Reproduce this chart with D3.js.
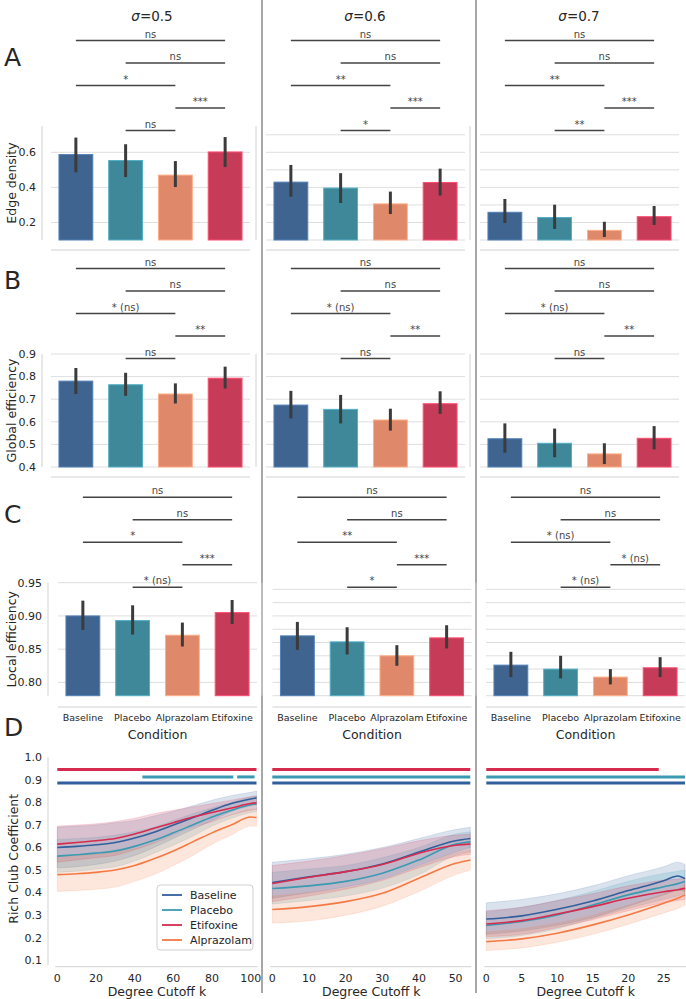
<!DOCTYPE html>
<html>
<head>
<meta charset="utf-8">
<script src="https://cdn.jsdelivr.net/npm/d3@7"></script>
<style>
body{margin:0;background:#fff}
text{font-family:"DejaVu Sans",sans-serif;fill:#262626}
</style>
</head>
<body>
<svg id="chart" width="686" height="999"></svg>
<script>
// ---- data ----
var conditions = ["Baseline","Placebo","Alprazolam","Etifoxine"];
var sigmas = ["0.5","0.6","0.7"];
var pairs = [[0,3],[1,3],[0,2],[2,3],[1,2]];

var edgeMean = [[0.587,0.553,0.470,0.602],[0.430,0.396,0.306,0.428],[0.258,0.228,0.155,0.233]];
var edgeLo   = [[0.486,0.459,0.402,0.516],[0.347,0.311,0.248,0.353],[0.197,0.163,0.117,0.186]];
var edgeHi   = [[0.684,0.646,0.550,0.687],[0.528,0.481,0.376,0.507],[0.334,0.301,0.204,0.294]];
var edgeStars = [["ns","ns","*","***","ns"],["ns","ns","**","***","*"],["ns","ns","**","***","**"]];

var globalMean = [[0.780,0.764,0.723,0.793],[0.674,0.655,0.608,0.680],[0.525,0.505,0.458,0.527]];
var globalLo   = [[0.723,0.715,0.681,0.747],[0.615,0.593,0.561,0.635],[0.463,0.443,0.413,0.478]];
var globalHi   = [[0.838,0.817,0.770,0.844],[0.737,0.719,0.658,0.735],[0.593,0.570,0.505,0.581]];
var globalStars = [["ns","ns","* (ns)","**","ns"],["ns","ns","* (ns)","**","ns"],["ns","ns","* (ns)","**","ns"]];

var localMean = [[0.900,0.893,0.871,0.905],[0.870,0.861,0.840,0.867],[0.826,0.820,0.808,0.822]];
var localLo   = [[0.879,0.872,0.854,0.888],[0.849,0.842,0.825,0.851],[0.808,0.806,0.797,0.808]];
var localHi   = [[0.923,0.916,0.890,0.924],[0.891,0.883,0.856,0.886],[0.846,0.840,0.820,0.838]];
var localStars = [["ns","ns","*","***","* (ns)"],["ns","ns","**","***","*"],["ns","ns","* (ns)","* (ns)","* (ns)"]];

var edgeTicks = [[0.2,0.4,0.6],[0.1,0.2,0.3,0.4,0.5,0.6,0.7],[0.1,0.2,0.3,0.4,0.5,0.6,0.7]];
var globalTicks = [0.4,0.5,0.6,0.7,0.8,0.9];
var localTicks = [[0.80,0.85,0.90,0.95],[0.78,0.80,0.82,0.84,0.86,0.88,0.90,0.92,0.94],[0.78,0.80,0.82,0.84,0.86,0.88,0.90,0.92,0.94]];

// rich club: k samples per sigma
var rcK = [[0,10,20,30,40,50,60,70,80,90,100,103],[0,10,20,30,40,50,54],[0,5,10,15,20,25,27,28]];
var rcOrder = ["Baseline","Placebo","Etifoxine","Alprazolam"];
var rcBaseline = [
  [0.600,0.605,0.612,0.622,0.642,0.668,0.700,0.732,0.765,0.795,0.815,0.820],
  [0.445,0.470,0.493,0.527,0.580,0.630,0.640],
  [0.283,0.297,0.326,0.363,0.409,0.453,0.474,0.462]];
var rcBaselineLo = [
  [0.510,0.515,0.525,0.540,0.565,0.600,0.640,0.680,0.720,0.760,0.785,0.790],
  [0.375,0.400,0.425,0.460,0.520,0.580,0.600],
  [0.215,0.230,0.255,0.290,0.340,0.390,0.410,0.405]];
var rcBaselineHi = [
  [0.690,0.695,0.700,0.710,0.720,0.740,0.760,0.785,0.810,0.830,0.845,0.850],
  [0.535,0.550,0.570,0.600,0.640,0.680,0.690],
  [0.355,0.370,0.395,0.430,0.475,0.515,0.535,0.525]];
var rcPlacebo = [
  [0.562,0.568,0.575,0.585,0.605,0.632,0.665,0.700,0.735,0.765,0.790,0.793],
  [0.418,0.430,0.450,0.486,0.545,0.615,0.625],
  [0.255,0.272,0.301,0.345,0.390,0.426,0.440,0.449]];
var rcPlaceboLo = [
  [0.490,0.495,0.505,0.515,0.540,0.575,0.610,0.650,0.695,0.730,0.755,0.760],
  [0.350,0.365,0.385,0.420,0.480,0.565,0.580],
  [0.195,0.210,0.240,0.285,0.330,0.370,0.385,0.395]];
var rcPlaceboHi = [
  [0.635,0.640,0.645,0.655,0.670,0.690,0.720,0.750,0.775,0.800,0.825,0.830],
  [0.490,0.505,0.520,0.555,0.600,0.660,0.670],
  [0.315,0.335,0.365,0.405,0.450,0.485,0.495,0.500]];
var rcEtifoxine = [
  [0.615,0.622,0.630,0.640,0.660,0.685,0.710,0.735,0.755,0.775,0.795,0.798],
  [0.440,0.468,0.493,0.525,0.575,0.610,0.615],
  [0.261,0.276,0.305,0.338,0.375,0.404,0.413,0.419]];
var rcEtifoxineLo = [
  [0.535,0.545,0.555,0.565,0.590,0.620,0.655,0.690,0.715,0.745,0.765,0.770],
  [0.360,0.385,0.415,0.455,0.510,0.560,0.570],
  [0.205,0.215,0.245,0.280,0.320,0.355,0.365,0.370]];
var rcEtifoxineHi = [
  [0.695,0.700,0.705,0.715,0.730,0.750,0.765,0.780,0.795,0.810,0.825,0.828],
  [0.520,0.540,0.565,0.595,0.630,0.655,0.660],
  [0.320,0.335,0.365,0.395,0.430,0.455,0.460,0.465]];
var rcAlprazolam = [
  [0.480,0.484,0.490,0.500,0.520,0.550,0.585,0.625,0.665,0.700,0.735,0.733],
  [0.325,0.338,0.360,0.397,0.464,0.530,0.545],
  [0.183,0.195,0.220,0.257,0.301,0.353,0.375,0.390]];
var rcAlprazolamLo = [
  [0.405,0.410,0.415,0.425,0.450,0.480,0.520,0.565,0.615,0.655,0.695,0.695],
  [0.265,0.275,0.300,0.340,0.405,0.480,0.500],
  [0.143,0.155,0.180,0.215,0.260,0.310,0.330,0.345]];
var rcAlprazolamHi = [
  [0.560,0.565,0.570,0.580,0.595,0.620,0.650,0.685,0.715,0.745,0.770,0.770],
  [0.385,0.400,0.420,0.455,0.515,0.575,0.590],
  [0.225,0.240,0.265,0.300,0.345,0.395,0.415,0.435]];
var rcXTicks = [[0,20,40,60,80,100],[0,10,20,30,40,50],[0,5,10,15,20,25]];
var rcYTicks = [0.1,0.2,0.3,0.4,0.5,0.6,0.7,0.8,0.9,1.0];
var rcKMax = [103,54,28];
// significant k ranges (vs Alprazolam)
var sigEtifoxine = [[[0,103]],[[0,54]],[[0,24.3]]];
var sigPlacebo   = [[[44,91],[93,102]],[[0,54]],[[0,28]]];
var sigBaseline  = [[[0,103]],[[0,54]],[[0,28]]];

// ---- style ----
var barColor = {Baseline:"#3f6490",Placebo:"#3f889a",Alprazolam:"#e0886a",Etifoxine:"#c63c58"};
var lineColor = {Baseline:"#315f9d",Placebo:"#3a9ab2",Etifoxine:"#d62b4e",Alprazolam:"#f47a44"};
var gridCol = "#dedede", spineCol = "#d2d2d2", annCol = "#444";

var svg = d3.select("#chart");

// column separators
[262,476].forEach(function(x){
  svg.append("line").attr("x1",x).attr("x2",x).attr("y1",0).attr("y2",993)
    .attr("stroke","#8a8a8a").attr("stroke-width",1.5);
});

// column titles
[152,365,579].forEach(function(cx,i){
  var t = svg.append("text").attr("x",cx).attr("y",21).attr("text-anchor","middle").style("font-size","13.5px");
  t.append("tspan").style("font-style","italic").text("σ");
  t.append("tspan").text("=" + sigmas[i]);
});

// panel letters
[["A",66],["B",289],["C",523],["D",736]].forEach(function(p){
  svg.append("text").attr("x",4).attr("y",p[1]).style("font-size","25px").text(p[0]);
});

var rows = [
  {top:126, bottom:240, spineY:250, lefts:[51,266,480], spineX:[42,256,470], domain:[0.1,0.75],
   mean:edgeMean, lo:edgeLo, hi:edgeHi, stars:edgeStars, ticks:edgeTicks, fmt:".1f", label:"Edge density"},
  {top:354, bottom:467, spineY:477, lefts:[51,266,480], spineX:[42,256,470], domain:[0.4,0.9],
   mean:globalMean, lo:globalLo, hi:globalHi, stars:globalStars, ticks:[globalTicks,globalTicks,globalTicks], fmt:".1f", label:"Global efficiency"},
  {top:582.7, bottom:695.7, spineY:707, lefts:[58,272.5,486], spineX:[48,262,476], domain:[0.78,0.95],
   mean:localMean, lo:localLo, hi:localHi, stars:localStars, ticks:localTicks, fmt:".2f", label:"Local efficiency", xlabels:true}
];

function drawBars(r, c){
  var left = r.lefts[c], right = left + 199;
  var x = d3.scaleBand().domain(conditions).range([left,right]).paddingInner(0.32).paddingOuter(0.16);
  var y = d3.scaleLinear().domain(r.domain).range([r.bottom, r.top]);
  var g = svg.append("g");

  // grid
  g.selectAll(".grid").data(r.ticks[c]).enter().append("line")
    .attr("x1",left).attr("x2",right)
    .attr("y1",function(d){return y(d);}).attr("y2",function(d){return y(d);})
    .attr("stroke",gridCol).attr("stroke-width",1);

  // spines
  g.append("line").attr("x1",r.spineX[c]).attr("x2",r.spineX[c]).attr("y1",r.top).attr("y2",r.bottom)
    .attr("stroke",spineCol).attr("stroke-width",1);
  g.append("line").attr("x1",left).attr("x2",right).attr("y1",r.spineY).attr("y2",r.spineY)
    .attr("stroke",spineCol).attr("stroke-width",1);

  // y tick labels only in first column
  if(c === 0){
    var f = d3.format(r.fmt);
    g.selectAll(".tl").data(r.ticks[c]).enter().append("text")
      .attr("x",r.spineX[c]-6).attr("y",function(d){return y(d);}).attr("dy","0.35em")
      .attr("text-anchor","end").style("font-size","11px").text(function(d){return f(d);});
    g.append("text").attr("transform","translate(16,"+((r.top+r.bottom)/2)+") rotate(-90)")
      .attr("text-anchor","middle").style("font-size","12.5px").text(r.label);
  }

  // bars
  g.selectAll(".bar").data(conditions).enter().append("rect")
    .attr("x",function(d){return x(d);}).attr("width",x.bandwidth())
    .attr("y",function(d,i){return y(r.mean[c][i]);})
    .attr("height",function(d,i){return y(r.domain[0]) - y(r.mean[c][i]);})
    .attr("fill",function(d){return barColor[d];})
    .attr("stroke",function(d){return d3.color(barColor[d]).brighter(0.7);}).attr("stroke-width",1);

  // error bars
  g.selectAll(".err").data(conditions).enter().append("line")
    .attr("x1",function(d){return x(d)+x.bandwidth()/2;}).attr("x2",function(d){return x(d)+x.bandwidth()/2;})
    .attr("y1",function(d,i){return y(r.lo[c][i]);}).attr("y2",function(d,i){return y(r.hi[c][i]);})
    .attr("stroke","#3b3b3b").attr("stroke-width",3);

  // significance brackets
  pairs.forEach(function(p,i){
    var ly = r.top + 4.5 - (4-i)*22.5;
    var x1 = x(conditions[p[0]]) + x.bandwidth()/2, x2 = x(conditions[p[1]]) + x.bandwidth()/2;
    g.append("line").attr("x1",x1).attr("x2",x2).attr("y1",ly).attr("y2",ly)
      .attr("stroke",annCol).attr("stroke-width",1.5);
    g.append("text").attr("x",(x1+x2)/2).attr("y",ly-3).attr("text-anchor","middle")
      .style("font-size","10px").style("fill",annCol).text(r.stars[c][i]);
  });

  // x labels
  if(r.xlabels){
    g.selectAll(".xl").data(conditions).enter().append("text")
      .attr("x",function(d){return x(d)+x.bandwidth()/2;}).attr("y",721)
      .attr("text-anchor","middle").style("font-size","9.5px").text(function(d){return d;});
    g.append("text").attr("x",(left+right)/2).attr("y",739).attr("text-anchor","middle")
      .style("font-size","12.5px").text("Condition");
  }
}

rows.forEach(function(r){ for(var c=0;c<3;c++) drawBars(r,c); });

// ---- rich club ----
var rcData = {
  Baseline:[rcBaseline,rcBaselineLo,rcBaselineHi],
  Placebo:[rcPlacebo,rcPlaceboLo,rcPlaceboHi],
  Etifoxine:[rcEtifoxine,rcEtifoxineLo,rcEtifoxineHi],
  Alprazolam:[rcAlprazolam,rcAlprazolamLo,rcAlprazolamHi]
};
var sigData = {Etifoxine:sigEtifoxine, Placebo:sigPlacebo, Baseline:sigBaseline};
var sigLevel = {Etifoxine:0.946, Placebo:0.913, Baseline:0.886};
var rcRanges = [[57.3,256.5],[272.3,470.3],[486.3,685]];
var rcY = d3.scaleLinear().domain([0.1,1.0]).range([960.3,757.3]);

function drawRich(c){
  var x = d3.scaleLinear().domain([0,rcKMax[c]]).range(rcRanges[c]);
  var g = svg.append("g");
  var ks = rcK[c];

  g.append("line").attr("x1",rcRanges[c][0]-2).attr("x2",rcRanges[c][1]+1).attr("y1",966.7).attr("y2",966.7)
    .attr("stroke",spineCol);
  g.selectAll(".xt").data(rcXTicks[c]).enter().append("text")
    .attr("x",function(d){return x(d);}).attr("y",982).attr("text-anchor","middle")
    .style("font-size","11px").text(function(d){return d;});
  g.append("text").attr("x",(rcRanges[c][0]+rcRanges[c][1])/2).attr("y",996).attr("text-anchor","middle")
    .style("font-size","12.5px").text("Degree Cutoff k");

  if(c === 0){
    g.append("line").attr("x1",48).attr("x2",48).attr("y1",rcY(1.0)).attr("y2",rcY(0.08)).attr("stroke",spineCol);
    g.selectAll(".yt").data(rcYTicks).enter().append("text")
      .attr("x",42).attr("y",function(d){return rcY(d);}).attr("dy","0.35em").attr("text-anchor","end")
      .style("font-size","11px").text(function(d){return d3.format(".1f")(d);});
    g.append("text").attr("transform","translate(18,"+rcY(0.55)+") rotate(-90)")
      .attr("text-anchor","middle").style("font-size","12.5px").text("Rich Club Coefficient");
  }

  var area = d3.area().curve(d3.curveMonotoneX)
    .x(function(d){return x(d.k);}).y0(function(d){return rcY(d.lo);}).y1(function(d){return rcY(d.hi);});
  var line = d3.line().curve(d3.curveMonotoneX)
    .x(function(d){return x(d.k);}).y(function(d){return rcY(d.m);});

  function pts(name){
    var s = rcData[name];
    return ks.map(function(k,i){ return {k:k, m:s[0][c][i], lo:s[1][c][i], hi:s[2][c][i]}; });
  }
  rcOrder.forEach(function(name){
    g.append("path").datum(pts(name)).attr("d",area)
      .attr("fill",lineColor[name]).attr("fill-opacity",0.18)
      .attr("stroke",lineColor[name]).attr("stroke-opacity",0.15).attr("stroke-width",1);
  });
  rcOrder.forEach(function(name){
    g.append("path").datum(pts(name)).attr("d",line)
      .attr("fill","none").attr("stroke",lineColor[name]).attr("stroke-width",1.6);
  });

  ["Etifoxine","Placebo","Baseline"].forEach(function(name){
    sigData[name][c].forEach(function(seg){
      g.append("line").attr("x1",x(seg[0])).attr("x2",x(seg[1]))
        .attr("y1",rcY(sigLevel[name])).attr("y2",rcY(sigLevel[name]))
        .attr("stroke",lineColor[name]).attr("stroke-width",3);
    });
  });

  if(c === 0){
    var lg = g.append("g");
    lg.append("rect").attr("x",157).attr("y",885).attr("width",96).attr("height",65).attr("rx",3)
      .attr("fill","#fff").attr("fill-opacity",0.85).attr("stroke","#cfcfcf");
    rcOrder.forEach(function(name,i){
      var yy = 895 + i*15;
      lg.append("line").attr("x1",162).attr("x2",182).attr("y1",yy).attr("y2",yy)
        .attr("stroke",lineColor[name]).attr("stroke-width",1.8);
      lg.append("text").attr("x",190).attr("y",yy).attr("dy","0.35em").style("font-size","11px").text(name);
    });
  }
}
for(var c=0;c<3;c++) drawRich(c);
</script>
</body>
</html>
